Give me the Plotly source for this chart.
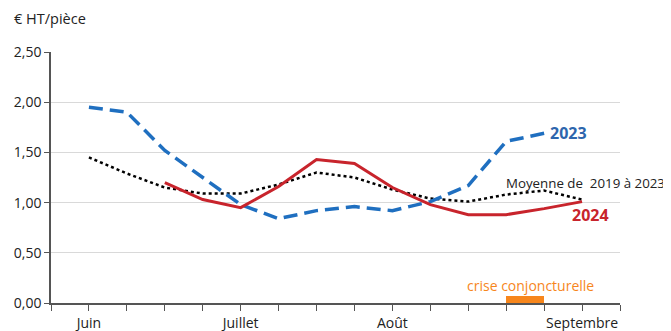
import plotly.graph_objects as go

weeks = list(range(16))
series_2023 = [None, 1.95, 1.90, 1.52, 1.25, 0.98, 0.84, 0.92, 0.96, 0.92, 1.01, 1.17, 1.61, 1.69, None, None]
series_2024 = [None, None, None, 1.20, 1.03, 0.95, 1.16, 1.43, 1.39, 1.15, 0.98, 0.88, 0.88, 0.94, 1.01, None]
series_moy = [None, 1.45, 1.29, 1.15, 1.09, 1.09, 1.18, 1.30, 1.25, 1.13, 1.04, 1.01, 1.08, 1.12, 1.03, None]
month_labels = ["", "Juin", "", "", "", "Juillet", "", "", "", "Août", "", "", "", "", "Septembre", ""]
y_ticks = [0, 0.5, 1.0, 1.5, 2.0, 2.5]
y_tick_labels = ["0,00", "0,50", "1,00", "1,50", "2,00", "2,50"]
crisis_start, crisis_end, crisis_height = 12, 13, 0.07

BLUE = "#1f6fc0"
RED = "#c8242c"
ORANGE = "#f7861c"
FONT = "Open Sans"

fig = go.Figure()
fig.add_trace(go.Bar(x=[(crisis_start + crisis_end) / 2], y=[crisis_height],
                     width=[crisis_end - crisis_start], marker=dict(color=ORANGE, line=dict(width=0)),
                     hoverinfo="skip"))
fig.add_trace(go.Scatter(x=weeks, y=series_moy, mode="lines",
                         line=dict(color="black", width=2.5, dash="dot")))
fig.add_trace(go.Scatter(x=weeks, y=series_2023, mode="lines",
                         line=dict(color=BLUE, width=3.5, dash="14px,7px")))
fig.add_trace(go.Scatter(x=weeks, y=series_2024, mode="lines",
                         line=dict(color=RED, width=3)))

fig.update_layout(
    width=675, height=323,
    margin=dict(l=43, r=63, t=44, b=28),
    plot_bgcolor="white", paper_bgcolor="white",
    showlegend=False,
    font=dict(family=FONT, size=14, color="#222"),
    bargap=0,
)
fig.update_xaxes(range=[0, 15], tickmode="array", tickvals=weeks, ticktext=month_labels,
                 ticks="outside", ticklen=6, tickcolor="#555", tickwidth=1.2,
                 showline=True, linecolor="#555", linewidth=1.8, showgrid=False,
                 zeroline=False, automargin=False, tickfont=dict(size=14, color="#222"))
fig.update_yaxes(range=[0, 2.5], tickmode="array", tickvals=y_ticks, ticktext=y_tick_labels,
                 ticks="outside", ticklen=5, tickcolor="#555",
                 showline=True, linecolor="#555", linewidth=1.5,
                 showgrid=True, gridcolor="#d9d9d9", gridwidth=1.2, zeroline=False,
                 automargin=False, tickfont=dict(size=14, color="#222"))

fig.add_annotation(text="€ HT/pièce", xref="paper", yref="paper", x=-0.068, y=1.135,
                   xanchor="left", yanchor="middle", showarrow=False,
                   font=dict(size=14.5, color="#222"))
fig.add_annotation(text="<b>2023</b>", x=13.1, y=1.69, xanchor="left", yanchor="middle",
                   showarrow=False, font=dict(size=16, color="#2e66ad"))
fig.add_annotation(text="Moyenne de  2019 à 2023", x=11.93, y=1.2, xanchor="left", yanchor="middle",
                   showarrow=False, font=dict(size=13.3, color="#222"))
fig.add_annotation(text="<b>2024</b>", x=13.68, y=0.875, xanchor="left", yanchor="middle",
                   showarrow=False, font=dict(size=16, color=RED))
fig.add_annotation(text="crise conjoncturelle", x=12.63, y=0.17, xanchor="center", yanchor="middle",
                   showarrow=False, font=dict(size=14, color=ORANGE))

fig.write_html("out.html")
